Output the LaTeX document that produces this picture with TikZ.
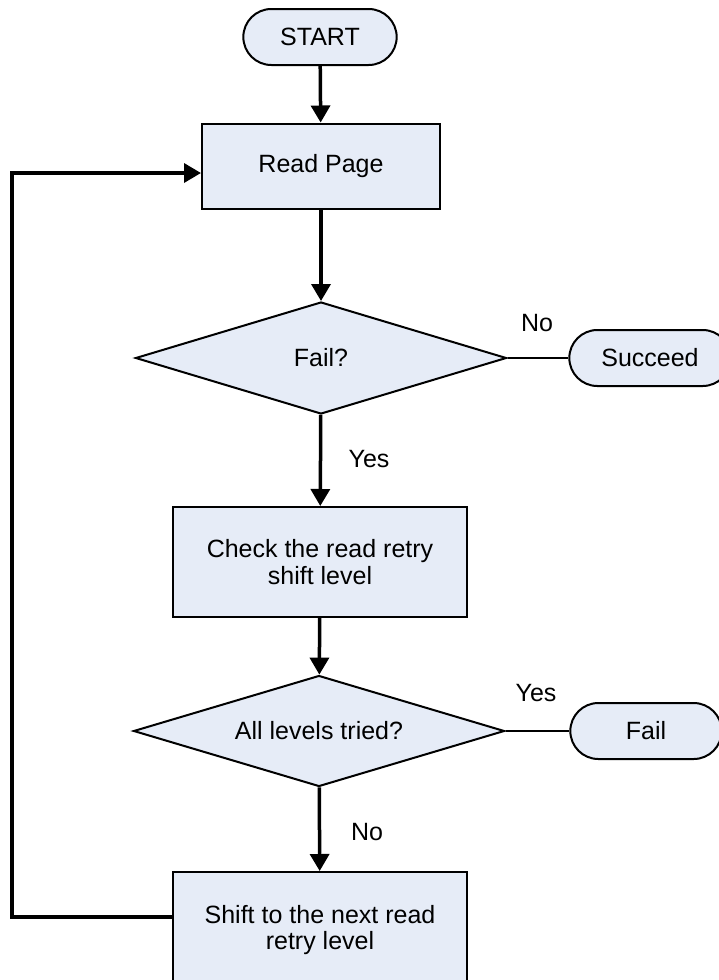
\documentclass[tikz,border=0pt]{standalone}
\usepackage{fontspec}
\setmainfont{Liberation Sans}
\usetikzlibrary{shapes.geometric,shapes.misc,arrows.meta}
\definecolor{boxblue}{HTML}{E6ECF7}

\begin{document}
\begin{tikzpicture}[
x=1pt, y=-1pt,
font=\fontsize{25}{26.5}\selectfont,
box/.style = {rectangle, draw=black, line width=2pt, fill=boxblue, align=center},
term/.style = {rounded rectangle, draw=black, line width=2pt, fill=boxblue, minimum height=56pt},
decision/.style = {diamond, draw=black, line width=2pt, fill=boxblue, aspect=3.3},
flow/.style = {line width=3.5pt, -{Triangle[length=17pt,width=19pt]}},
side/.style = {line width=2pt}
                        ]
\useasboundingbox (0,0) rectangle (719,980);

    \node[term, minimum width=160pt] (start) at (320,37) {START};
    \node[box, minimum width=238pt, minimum height=85pt] (read) at (321,166) {Read Page};
    \node[decision, minimum width=371pt, minimum height=112pt] (fail) at (321,358) {Fail?};
    \node[term, minimum width=168pt] (succeed) at (650,358) {Succeed};
    \node[box, minimum width=294pt, minimum height=110pt] (check) at (320,562) {Check the read retry\\shift level};
    \node[decision, minimum width=371pt, minimum height=111pt] (levels) at (319,731) {All levels tried?};
    \node[term, minimum width=158pt] (failend) at (646,731) {Fail};
    \node[box, minimum width=294pt, minimum height=116pt] (shift) at (320,930) {Shift to the next read\\retry level};

    \node (no1) at (537,323) {No};
    \node (yes1) at (369,459) {Yes};
    \node (yes2) at (536,693) {Yes};
    \node (no2) at (367,832) {No};

    \coordinate (loop) at (12,917);

    \draw[flow] (start) -- (read);
    \draw[flow] (read) -- (fail);
    \draw[side] (fail.east) -- (succeed.west);
    \draw[flow] (fail) -- (check);
    \draw[flow] (check) -- (levels);
    \draw[side] (levels.east) -- (failend.west);
    \draw[flow] (levels) -- (shift);
    \draw[flow] ([yshift=13pt]shift.west) -- (loop) |- ([yshift=-7pt]read.west);

\end{tikzpicture}
\end{document}
